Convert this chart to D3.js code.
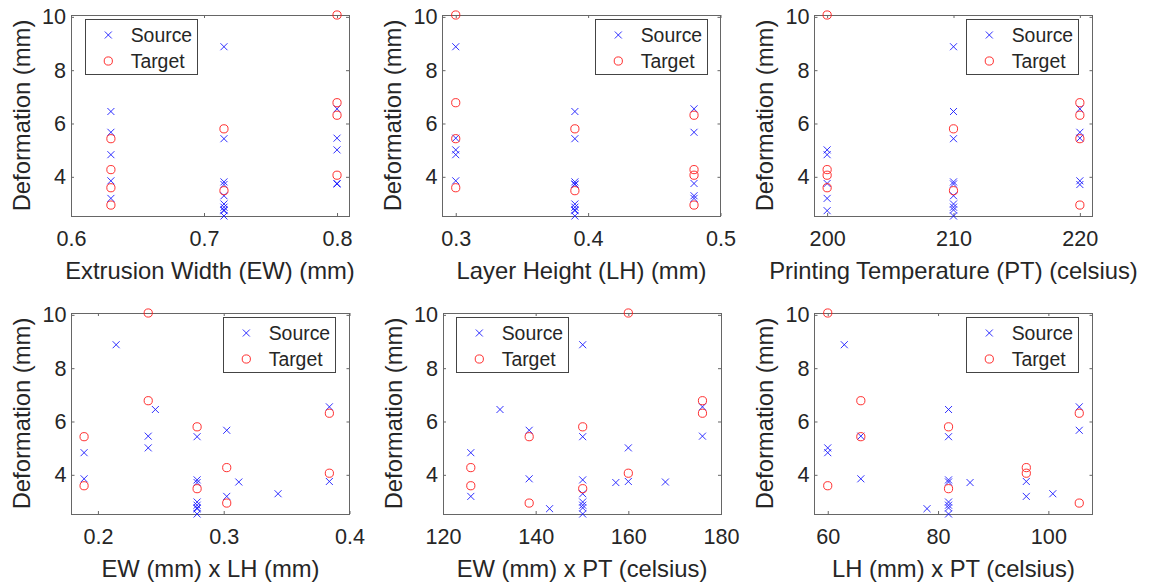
<!DOCTYPE html>
<html>
<head>
<meta charset="utf-8">
<script src="https://cdn.jsdelivr.net/npm/d3@7"></script>
<style>
  body { margin: 0; background: #fff; }
  svg { display: block; }
</style>
</head>
<body>
<svg id="chart"></svg>
<script>
const width = 1153;
const height = 585;

// source runs: extrusion width, layer height, printing temperature, deformation
const sourceEW  = [0.715, 0.63, 0.8, 0.63, 0.715, 0.8, 0.8, 0.63, 0.63, 0.8, 0.8, 0.715, 0.715, 0.63, 0.715, 0.715, 0.715, 0.715, 0.715, 0.715];
const sourceLH  = [0.3, 0.39, 0.48, 0.48, 0.39, 0.3, 0.3, 0.3, 0.3, 0.48, 0.39, 0.39, 0.48, 0.48, 0.39, 0.39, 0.39, 0.39, 0.39, 0.39];
const sourcePT  = [210, 210, 220, 220, 210, 220, 200, 200, 220, 200, 210, 220, 210, 200, 200, 210, 210, 210, 210, 210];
const sourceDef = [8.88, 6.45, 6.55, 5.67, 5.43, 5.45, 5.01, 4.83, 3.85, 3.75, 3.73, 3.71, 3.29, 3.19, 2.73, 3.81, 2.98, 2.86, 2.76, 2.53];

// target runs
const targetEW  = [0.8, 0.8, 0.8, 0.8, 0.63, 0.63, 0.63, 0.63, 0.715, 0.715];
const targetLH  = [0.3, 0.3, 0.48, 0.48, 0.3, 0.48, 0.3, 0.48, 0.39, 0.39];
const targetPT  = [200, 220, 220, 200, 220, 200, 200, 220, 210, 210];
const targetDef = [10.07, 6.78, 6.31, 4.06, 5.43, 4.27, 3.59, 2.94, 5.80, 3.48];

const yTicks = [4, 6, 8, 10];
const legendLabels = ["Source", "Target"];

const toRows = (ew, lh, pt, def) => ew.map((d, i) => ({ ew: d, lh: lh[i], pt: pt[i], def: def[i] }));
const source = toRows(sourceEW, sourceLH, sourcePT, sourceDef);
const target = toRows(targetEW, targetLH, targetPT, targetDef);

const panels = [
  { label: "Extrusion Width (EW) (mm)", x: d => d.ew, domain: [0.6, 0.809], ticks: [0.6, 0.7, 0.8], fmt: d3.format(".1f"), left: 71, top: 15, legendX: 14 },
  { label: "Layer Height (LH) (mm)", x: d => d.lh, domain: [0.29, 0.5], ticks: [0.3, 0.4, 0.5], fmt: d3.format(".1f"), left: 442.5, top: 15, legendX: 152.5 },
  { label: "Printing Temperature (PT) (celsius)", x: d => d.pt, domain: [199, 221], ticks: [200, 210, 220], fmt: d3.format("d"), left: 814.5, top: 15, legendX: 151.5 },
  { label: "EW (mm) x LH (mm)", x: d => d.ew * d.lh, domain: [0.179, 0.4], ticks: [0.2, 0.3, 0.4], fmt: d3.format(".1f"), left: 71.5, top: 313, legendX: 151.5 },
  { label: "EW (mm) x PT (celsius)", x: d => d.ew * d.pt, domain: [120, 180], ticks: [120, 140, 160, 180], fmt: d3.format("d"), left: 443, top: 313, legendX: 13 },
  { label: "LH (mm) x PT (celsius)", x: d => d.lh * d.pt, domain: [57.6, 108], ticks: [60, 80, 100], fmt: d3.format("d"), left: 814.5, top: 313, legendX: 151.5 }
];

const pw = 278;
const ph = 201;
const font = "'Liberation Sans', Arial, Helvetica, sans-serif";
const ink = "#262626";
const blue = "#1a1aff";
const red = "#ff1a1a";
const s = 3.5;   // half size of the cross marker
const r = 4.1;   // circle marker radius

const svg = d3.select("#chart")
  .attr("width", width)
  .attr("height", height)
  .style("font-family", font);

const yScale = d3.scaleLinear().domain([2.53, 10.07]).range([ph, 0]);

panels.forEach(p => {
  const g = svg.append("g").attr("transform", `translate(${p.left}, ${p.top})`);
  const xScale = d3.scaleLinear().domain(p.domain).range([0, pw]);

  // axes with inward ticks on all four sides
  const styleAxis = sel => {
    sel.select(".domain").remove();
    sel.selectAll("line").attr("stroke", "#666");
    sel.selectAll("text").attr("fill", ink).style("font-size", "21.6px").style("font-family", font);
  };

  g.append("g")
    .attr("transform", `translate(0, ${ph})`)
    .call(d3.axisBottom(xScale).tickValues(p.ticks).tickFormat(p.fmt).tickSize(-3).tickPadding(14.5))
    .call(styleAxis);
  g.append("g")
    .call(d3.axisTop(xScale).tickValues(p.ticks).tickFormat("").tickSize(-3))
    .call(styleAxis);
  g.append("g")
    .call(d3.axisLeft(yScale).tickValues(yTicks).tickFormat(d3.format("d")).tickSize(-3).tickPadding(5))
    .call(styleAxis);
  g.append("g")
    .attr("transform", `translate(${pw}, 0)`)
    .call(d3.axisRight(yScale).tickValues(yTicks).tickFormat("").tickSize(-3))
    .call(styleAxis);

  g.append("rect")
    .attr("width", pw)
    .attr("height", ph)
    .attr("fill", "none")
    .attr("stroke", "#666")
    .attr("shape-rendering", "crispEdges");

  // source: crosses
  g.selectAll(".src")
    .data(source)
    .enter()
    .append("path")
    .attr("class", "src")
    .attr("transform", d => `translate(${xScale(p.x(d))}, ${yScale(d.def)})`)
    .attr("d", `M${-s},${-s}L${s},${s}M${-s},${s}L${s},${-s}`)
    .attr("stroke", blue)
    .attr("stroke-width", 0.9)
    .attr("fill", "none");

  // target: open circles
  g.selectAll(".tgt")
    .data(target)
    .enter()
    .append("circle")
    .attr("class", "tgt")
    .attr("cx", d => xScale(p.x(d)))
    .attr("cy", d => yScale(d.def))
    .attr("r", r)
    .attr("stroke", red)
    .attr("stroke-width", 0.9)
    .attr("fill", "none");

  // labels
  g.append("text")
    .attr("x", pw / 2)
    .attr("y", ph + 63)
    .attr("text-anchor", "middle")
    .attr("fill", ink)
    .style("font-size", "23.8px")
    .text(p.label);

  g.append("text")
    .attr("transform", `translate(-41.5, ${ph / 2}) rotate(-90)`)
    .attr("text-anchor", "middle")
    .attr("fill", ink)
    .style("font-size", "23.8px")
    .text("Deformation (mm)");

  // legend
  const lg = g.append("g").attr("transform", `translate(${p.legendX}, 4)`);
  lg.append("rect")
    .attr("width", 112.5)
    .attr("height", 55)
    .attr("fill", "#fff")
    .attr("stroke", "#444")
    .attr("shape-rendering", "crispEdges");
  lg.append("path")
    .attr("transform", "translate(23.3, 16)")
    .attr("d", `M${-s},${-s}L${s},${s}M${-s},${s}L${s},${-s}`)
    .attr("stroke", blue)
    .attr("stroke-width", 0.9);
  lg.append("circle")
    .attr("cx", 23.3)
    .attr("cy", 42)
    .attr("r", r)
    .attr("stroke", red)
    .attr("stroke-width", 0.9)
    .attr("fill", "none");
  lg.selectAll(".lt")
    .data(legendLabels)
    .enter()
    .append("text")
    .attr("x", 45.7)
    .attr("y", (d, i) => 16 + i * 26)
    .attr("dy", "0.35em")
    .attr("fill", ink)
    .style("font-size", "19.4px")
    .text(d => d);
});
</script>
</body>
</html>
